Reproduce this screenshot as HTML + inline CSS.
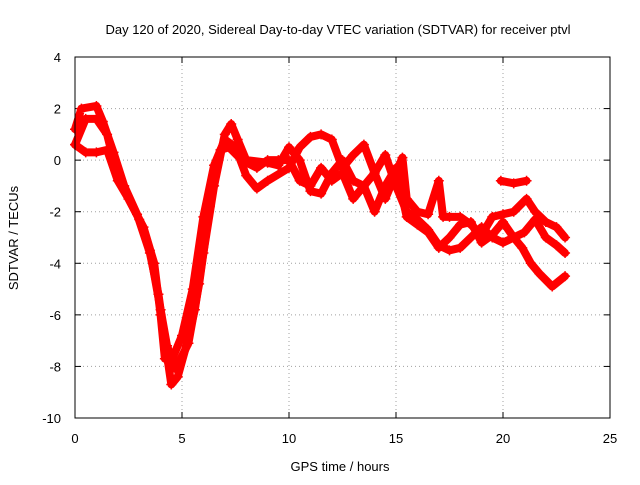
<!DOCTYPE html>
<html><head><meta charset="utf-8"><style>
body{margin:0;background:#fff}
svg text{font-family:"Liberation Sans",sans-serif;font-size:13px;fill:#000}
</style></head><body>
<svg id="c" width="640" height="480">
<text x="338" y="34" text-anchor="middle">Day 120 of 2020, Sidereal Day-to-day VTEC variation (SDTVAR) for receiver ptvl</text>
<text x="340" y="471" text-anchor="middle">GPS time / hours</text>
<text transform="translate(18,238) rotate(-90)" text-anchor="middle">SDTVAR / TECUs</text>
<g id="grid"></g>
<g id="axes"></g>
<g id="series"></g>
<rect x="75" y="57" width="535" height="361" fill="none" stroke="#000" stroke-width="1"/>
</svg>
<script>
const xTicks=[0,5,10,15,20,25];
const yTicks=[-10,-8,-6,-4,-2,0,2,4];
const s1x=[0,0.3,1,1.3,1.8,2.3,2.9,3.5,3.9,4.2,4.5,4.8,5.2,5.6,6,6.5,7,7.3,7.6,8,9,9.5,10,10.5,11,11.5,12,12.5,13,13.5,14,14.5,15,15.3,15.5,16,16.5,17,17.2,17.5,18,18.5,19,19.5,20,20.5,21.1,21.5,22,22.5,22.9];
const s1y=[1.2,2.0,2.1,1.5,0.3,-1,-2.1,-3.6,-5.2,-7,-8.7,-8.4,-7.2,-5.8,-3.6,-1,1,1.4,0.8,0,-0.1,-0.2,0.5,0,-1.2,-1.3,-0.5,0,-0.8,-1,-0.5,-1.5,-0.5,0.1,-1.5,-2,-2.1,-0.8,-2.2,-2.2,-2.2,-2.5,-2.9,-2.2,-2.1,-2,-1.5,-2,-2.4,-2.6,-3];
const s2x=[0,0.5,1,1.5,1.8,2.5,3.2,3.7,4,4.2,4.5,5,5.5,6,6.5,7,7.5,8,8.5,9,10,10.5,11,11.5,12,12.5,13,13.5,14,14.5,15,15.5,16,16.5,17,17.5,18,18.5,19,19.5,20,20.5,20.9,21.3,21.7,22.3,22.9];
const s2y=[0.6,1.6,1.6,1,0,-1.5,-2.6,-4,-6,-7.7,-7.8,-6.8,-5,-2.2,-0.2,0.8,0.5,-0.6,-1.1,-0.8,-0.3,0.5,0.9,1.0,0.8,-0.3,0.2,0.6,-0.5,0.2,-1,-2,-2.3,-2.7,-3.3,-3.5,-3.4,-3,-2.6,-3,-3.2,-3,-3.4,-4,-4.4,-4.9,-4.5];
const s3x=[0,0.5,1,1.5,2,2.5,3,3.5,4,4.3,4.7,5.3,5.8,6.3,6.8,7.2,7.8,8.5,9,9.5,10,10.5,11,11.5,12,12.5,13,13.5,14,14.5,15,15.5,16,16.5,17,17.5,18,18.5,19,19.5,20,20.5,21,21.5,22,22.5,22.9];
const s3y=[0.6,0.3,0.3,0.4,-0.8,-1.5,-2.3,-3.5,-5.8,-7.2,-8.1,-7.1,-4.8,-1.8,0.4,0.5,0,-0.3,0,0,0,-0.8,-1,-0.3,-0.8,-0.5,-1.5,-1,-2,-1,-0.3,-2.2,-2.5,-2.8,-3.4,-3,-2.5,-2.4,-3.2,-2.9,-2.4,-3,-2.8,-2.3,-3,-3.3,-3.6];
const s4x=[19.9,20.5,21.1];
const s4y=[-0.8,-0.9,-0.8];
const X=v=>75+v*535/25, Y=v=>418-(v+10)*361/14;
const NS='http://www.w3.org/2000/svg';
const grid=document.getElementById('grid'),axes=document.getElementById('axes'),ser=document.getElementById('series');
function mk(t,a,p){const e=document.createElementNS(NS,t);for(const k in a)e.setAttribute(k,a[k]);p.appendChild(e);return e;}
xTicks.forEach(v=>{
 if(v>0&&v<25){const g=mk('line',{x1:X(v),x2:X(v),y1:57,y2:418,stroke:'#a0a0a0','stroke-dasharray':'1,3'},grid);
 
 }
 mk('line',{x1:X(v),x2:X(v),y1:418,y2:412,stroke:'#000'},axes);
 mk('line',{x1:X(v),x2:X(v),y1:57,y2:63,stroke:'#000'},axes);
 const t=mk('text',{x:X(v),y:443,'text-anchor':'middle'},axes);t.textContent=v;
 
 
});
yTicks.forEach(v=>{
 if(v>-10&&v<4){const g=mk('line',{x1:75,x2:610,y1:Y(v),y2:Y(v),stroke:'#a0a0a0','stroke-dasharray':'1,3'},grid);
 
 }
 mk('line',{x1:75,x2:81,y1:Y(v),y2:Y(v),stroke:'#000'},axes);
 mk('line',{x1:610,x2:604,y1:Y(v),y2:Y(v),stroke:'#000'},axes);
 const t=mk('text',{x:61,y:Y(v)+5,'text-anchor':'end'},axes);t.textContent=v;
 
 
});
[[s1x,s1y],[s2x,s2y],[s3x,s3y],[s4x,s4y]].forEach((s,i)=>{
 const pts=s[0].map((x,j)=>X(x)+','+Y(s[1][j])).join(' ');
 const pl=mk('polyline',{points:pts,fill:'none',stroke:'#f00','stroke-width':8,'stroke-linejoin':'round','stroke-linecap':'round'},ser);
 
 
 s[0].forEach((x,j)=>{const cx=X(x),cy=Y(s[1][j]);
  const p=mk('path',{d:`M${cx-5},${cy}h10M${cx},${cy-5}v10`,stroke:'#f00','stroke-width':1.5},ser);
  
  });
});
</script>
</body></html>
